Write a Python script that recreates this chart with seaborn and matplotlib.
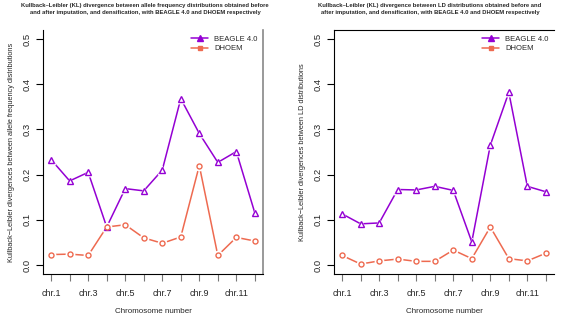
import matplotlib
matplotlib.use("Agg")
import matplotlib.pyplot as plt
import seaborn as sns
import pandas as pd
from matplotlib.lines import Line2D

sns.set_theme(style="white")
plt.rcParams['font.family'] = ['Liberation Sans', 'DejaVu Sans']

chromosomes = ["chr.%d" % i for i in range(1, 13)]
chrom_num = list(range(1, 13))
tick_labels = ["chr.1", "", "chr.3", "", "chr.5", "", "chr.7", "", "chr.9", "", "chr.11", ""]

af_beagle = [0.233, 0.186, 0.205, 0.084, 0.169, 0.164, 0.210, 0.368, 0.291, 0.227, 0.251, 0.115]
af_dhoem = [0.023, 0.024, 0.021, 0.084, 0.089, 0.060, 0.048, 0.062, 0.220, 0.021, 0.061, 0.053]

ld_beagle = [0.113, 0.091, 0.093, 0.167, 0.166, 0.174, 0.165, 0.051, 0.265, 0.382, 0.174, 0.162]
ld_dhoem = [0.021, 0.002, 0.009, 0.013, 0.008, 0.008, 0.033, 0.014, 0.084, 0.014, 0.009, 0.026]

methods = ["BEAGLE 4.0", "DHOEM"]
colors = {"BEAGLE 4.0": "#9400D3", "DHOEM": "#EE6A50"}
open_markers = {"BEAGLE 4.0": "^", "DHOEM": "o"}
legend_markers = {"BEAGLE 4.0": "^", "DHOEM": "s"}

titles = [
    "Kullback\u2013Leibler (KL) divergence between allele frequency distributions obtained before\nand after imputation, and densification, with BEAGLE 4.0 and DHOEM respectively",
    "Kullback\u2013Leibler (KL) divergence between LD distributions obtained before and\nafter imputation, and densification, with BEAGLE 4.0 and DHOEM respectively",
]
ylabels = [
    "Kullback\u2212Leibler divergences between allele frequency distributions",
    "Kullback\u2212Leibler divergences between LD distributions",
]
xlabel = "Chromosome number"
yticks = [0.0, 0.1, 0.2, 0.3, 0.4, 0.5]

fig = plt.figure(figsize=(5.67, 3.18), dpi=100)
ax1 = fig.add_axes([43 / 567, 1 - 274 / 318, 220 / 567, 244 / 318])
ax2 = fig.add_axes([334 / 567, 1 - 274 / 318, 220 / 567, 244 / 318])

panels = [(ax1, af_beagle, af_dhoem), (ax2, ld_beagle, ld_dhoem)]

for i, (ax, beagle, dhoem) in enumerate(panels):
    df = pd.DataFrame({
        "chrom": chrom_num * 2,
        "value": beagle + dhoem,
        "method": ["BEAGLE 4.0"] * 12 + ["DHOEM"] * 12,
    })
    for m in methods:
        sub = df[df.method == m]
        sns.lineplot(data=sub, x="chrom", y="value", color=colors[m], lw=1.1,
                     ax=ax, legend=False, zorder=2)
        # gaps around points (R type="b")
        sns.scatterplot(data=sub, x="chrom", y="value", color="white", s=50,
                        marker=open_markers[m], linewidth=0, ax=ax, legend=False, zorder=3)
        ax.plot(sub["chrom"], sub["value"], linestyle="none", marker=open_markers[m],
                markersize=4.3 if m == "BEAGLE 4.0" else 3.6, markerfacecolor="white",
                markeredgecolor=colors[m], markeredgewidth=1.0, zorder=4)

    ax.set_xlim(0.56, 12.44)
    ax.set_ylim(-0.02, 0.52)
    ax.set_xticks(chrom_num)
    ax.set_xticklabels(tick_labels, fontsize=6.5)
    ax.set_yticks(yticks)
    ax.set_yticklabels(["%.1f" % v for v in yticks], fontsize=6.8, rotation=90, va="center")
    ax.tick_params(axis="x", direction="out", length=5, width=0.8, color="#777777", pad=6, bottom=True)
    ax.tick_params(axis="y", direction="out", length=5, width=0.8, color="black", pad=3, left=True)
    ax.set_xlabel(xlabel, fontsize=5.8, labelpad=7)
    ax.set_ylabel(ylabels[i], fontsize=5.3, labelpad=6)
    for s in ax.spines.values():
        s.set_color("black")
        s.set_linewidth(0.8)
    if i == 0:
        ax.spines["top"].set_visible(False)
        ax.spines["right"].set_color("#888888")
        ax.spines["right"].set_linewidth(1.2)
    else:
        ax.spines["right"].set_visible(False)
    ax.grid(False)

    handles = [Line2D([0], [0], color=colors[m], lw=1.1, marker=legend_markers[m],
                      markersize=4 if m == "BEAGLE 4.0" else 3, markerfacecolor=colors[m],
                      markeredgecolor=colors[m]) for m in methods]
    ax.legend(handles, methods, loc="upper right", fontsize=5.5, frameon=False,
              handlelength=2.2, handletextpad=0.8, borderaxespad=0.3, labelspacing=0.3)

fig.text(145 / 567, 1 - 9 / 318, titles[0], ha="center", va="center", fontsize=4.2,
         fontweight="bold", linespacing=1.4)
fig.text(430 / 567, 1 - 9 / 318, titles[1], ha="center", va="center", fontsize=4.2,
         fontweight="bold", linespacing=1.4)

fig.savefig("out.png", dpi=100)
